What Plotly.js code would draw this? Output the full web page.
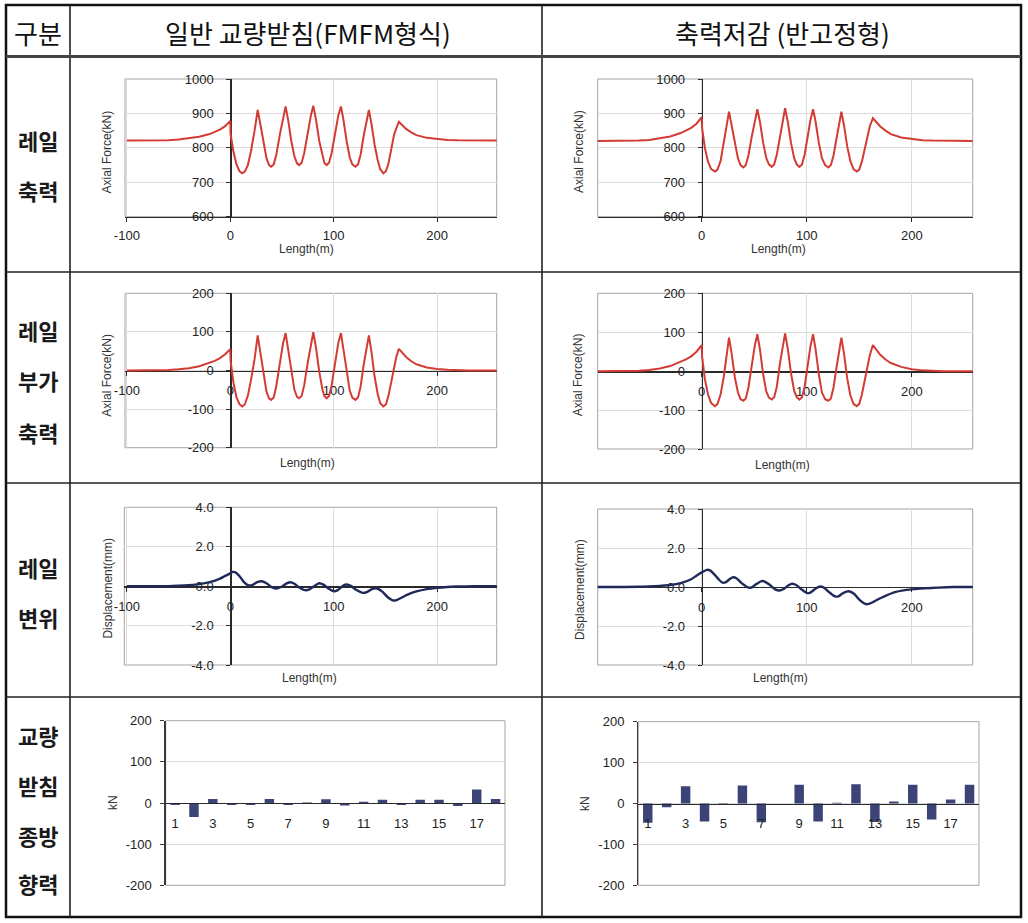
<!DOCTYPE html>
<html><head><meta charset="utf-8">
<script src="https://cdn.plot.ly/plotly-3.0.1.min.js"></script>
<style>html,body{margin:0;padding:0;background:#fff;}#chart{width:1028px;height:923px;}</style>
</head><body><div id="chart"></div>
<script>
// ---------------- DATA ----------------
const headerTexts = ['구분', '일반 교량받침(FMFM형식)', '축력저감 (반고정형)'];
const rowLabels = [['레일', '축력'], ['레일', '부가', '축력'], ['레일', '변위'], ['교량', '받침', '종방', '향력']];

// Row 1: rail axial force (kN)
const axialLenL = [-100,-80,-60,-50,-40,-30,-20,-15,-10,-5,0,0.3,3,6,9,11.6,14,17,20,23.5,26.5,29,32,35,37.5,39.5,42,44.5,48,51,53.5,56,59,62,64.5,66.5,69,71.5,75,78,80.3,83,86,89,91,93.2,95.5,98,101.5,104.5,107,109.5,112.5,115.5,118,121,123.5,126,129,132,134,136.5,139.5,142.5,145,148,150.5,153,156,158.5,163,166,170,175,180,190,200,210,220,240,260];
const axialL    = [821,821,822,824,827,832,840,846,853,863,878,840,790,752,732,726,731,750,790,850,910,870,815,770,750,745,752,780,840,890,920,880,820,775,755,750,757,785,845,895,922,880,820,775,756,750,757,785,845,895,920,880,820,772,752,745,752,780,835,885,910,870,810,765,738,726,732,755,800,840,876,866,855,845,837,829,825,823,822,821,821];
const axialLenR = [-100,-80,-60,-50,-40,-30,-20,-15,-10,-5,0,0.3,3,6,9,12.7,15,18,21,23.5,26,28.5,31.5,34.5,37,39.7,42,44.5,47.5,50.5,53,55.5,58.5,61.5,64,66.7,69,71.5,74.5,77,79.4,82,85,88,90.5,93,95.5,98,101,103.5,106,108.5,111.5,114.5,117.5,120.6,123,125.5,128.5,131,133,135.5,138.5,141.5,144.5,147.6,150,152.5,155,157.5,160,163,166,170,175,180,190,200,210,220,240,260];
const axialR    = [820,820,821,823,827,833,843,850,858,870,889,860,800,760,738,731,737,762,810,860,905,865,810,770,750,743,750,778,830,880,912,875,815,770,752,745,752,780,835,880,915,875,815,770,752,745,752,780,835,880,912,875,815,770,750,743,750,778,830,875,905,865,805,762,738,731,737,760,795,835,862,886,875,862,850,840,830,825,822,821,820,820];

// Row 2: rail additional axial force (kN)
const addLenL = [-100,-80,-60,-50,-40,-30,-20,-15,-10,-5,0,0.3,3,6,9,11.6,14,17,20,23.5,26.5,29,32,35,37.5,39.5,42,44.5,48,51,53.5,56,59,62,64.5,66.5,69,71.5,75,78,80.3,83,86,89,91,93.2,95.5,98,101.5,104.5,107,109.5,112.5,115.5,118,121,123.5,126,129,132,134,136.5,139.5,142.5,145,148,150.5,153,155.5,158,160.5,163,166,170,175,180,190,200,210,220,230,260];
const addL    = [0,0,1,3,6,11,19,25,32,42,55,25,-30,-70,-88,-93,-88,-65,-25,30,91,50,-10,-55,-72,-76,-70,-40,20,70,97,55,-5,-50,-68,-72,-66,-38,22,72,99,57,-3,-48,-66,-72,-66,-38,22,72,97,55,-5,-52,-70,-76,-70,-42,15,65,91,48,-15,-60,-85,-93,-88,-65,-30,10,35,56,46,35,24,16,8,4,2,1,0,0];
const addLenR = [-100,-80,-60,-50,-40,-30,-20,-15,-10,-5,0,0.3,3,6,9,12.7,15,18,21,23.5,26,28.5,31.5,34.5,37,39.7,42,44.5,47.5,50.5,53,55.5,58.5,61.5,64,66.7,69,71.5,74.5,77,79.4,82,85,88,90.5,93,95.5,98,101,103.5,106,108.5,111.5,114.5,117.5,120.6,123,125.5,128.5,131,133,135.5,138.5,141.5,144.5,147.6,150,152.5,155,157.5,160,163,166,170,175,180,190,200,210,220,230,260];
const addR    = [0,0,1,3,7,13,23,30,38,50,67,40,-20,-60,-82,-90,-84,-60,-15,35,86,45,-15,-55,-72,-76,-70,-42,15,65,95,55,-8,-52,-68,-73,-67,-40,20,65,97,57,-5,-50,-67,-73,-67,-40,18,63,95,55,-8,-55,-72,-76,-70,-42,12,55,86,45,-18,-62,-84,-90,-84,-60,-25,15,40,67,55,42,30,21,11,5,2,1,0,0];

// Row 3: rail displacement (mm)
const dispLenL = [-100,-60,-50,-40,-30,-20,-10,-5,0,2,5,9,13,17,21,26,30,35,40,45,50,55,58,62,67,72,76,81,86,90,95,100,104,108,112,117,122,128,132,137,142,147,152,157,160,165,172,180,190,200,210,220,235,260];
const dispL    = [0,0,0.02,0.05,0.1,0.2,0.38,0.52,0.65,0.72,0.7,0.5,0.22,0.05,0.05,0.2,0.25,0.15,-0.05,-0.12,-0.02,0.15,0.2,0.12,-0.08,-0.2,-0.18,0,0.15,0.08,-0.12,-0.26,-0.2,-0.02,0.08,0,-0.2,-0.34,-0.3,-0.15,-0.12,-0.28,-0.55,-0.72,-0.72,-0.6,-0.42,-0.27,-0.15,-0.08,-0.04,-0.02,0,0];
const dispLenR = [-100,-60,-50,-40,-30,-20,-10,-5,0,5,8,12,16,20,23,27,30,33,38,44,47,52,57,60,65,70,74,78,83,86,90,95,100,103,108,112,116,121,127,130,135,140,145,150,155,158,163,168,175,184,192,200,212,225,240,260];
const dispR    = [0,0.01,0.03,0.06,0.1,0.2,0.4,0.58,0.75,0.88,0.85,0.65,0.4,0.22,0.25,0.42,0.5,0.45,0.2,-0.02,-0.03,0.15,0.3,0.28,0.1,-0.12,-0.18,-0.1,0.1,0.17,0.1,-0.12,-0.3,-0.3,-0.1,0.02,-0.02,-0.25,-0.48,-0.48,-0.3,-0.22,-0.35,-0.65,-0.85,-0.88,-0.78,-0.63,-0.45,-0.26,-0.17,-0.12,-0.07,-0.03,0,0];

// Row 4: bearing longitudinal force (kN)
const bearingNo = ['1','2','3','4','5','6','7','8','9','10','11','12','13','14','15','16','17','18'];
const bearingTickLabels = ['1','3','5','7','9','11','13','15','17'];
const bearingL = [-5,-34,10,-5,-5,10,-5,1,9,-6,3,8,-5,8,8,-7,33,10];
const bearingR = [-47,-9,42,-44,-1,44,-46,0,46,-44,2,47,-45,5,46,-39,10,46];

// Tick labels
const lengthTicks = [-100, 0, 100, 200];
const lengthTickText = ['-100', '0', '100', '200'];
const axialTicks = [600, 700, 800, 900, 1000];
const axialTickText = ['600', '700', '800', '900', '1000'];
const addTicks = [-200, -100, 0, 100, 200];
const addTickText = ['-200', '-100', '0', '100', '200'];
const dispTicks = [-4, -2, 0, 2, 4];
const dispTickText = ['-4.0', '-2.0', '0.0', '2.0', '4.0'];
const kNTicks = [-200, -100, 0, 100, 200];
const kNTickText = ['-200', '-100', '0', '100', '200'];

const axisTitles = {axial: 'Axial Force(kN)', disp: 'Displacement(mm)', len: 'Length(m)', kn: 'kN'};

// ---------------- LAYOUT ----------------
const W = 1028, H = 923;
const fx = p => p / W;
const fy = p => 1 - p / H;

const RED = '#d33c34', NAVY = '#1f2a58', BAR = '#3c4377';
const tickFont = {family: 'Liberation Sans, Arial, sans-serif', size: 13, color: '#222'};
const titleFont = {family: 'Liberation Sans, Arial, sans-serif', size: 12, color: '#333'};
const KFONT = 'Noto Sans CJK KR, sans-serif';

// plot boxes in pixels
const plots = [
  {x0:125,   x1:496.7, y0:79,    y1:216.7, xr:[-101.8,257.6], yr:[600,1000], zx:230.3, xaxPx:216.7, xs:axialLenL, ys:axialL, col:RED, yt:axialTicks, ytt:axialTickText, ytitle:axisTitles.axial, ytPos:[106.7,151.7], ltPos:[306.7,249.3], shape:'linear', lw:2},
  {x0:597.7, x1:972.7, y0:79,    y1:216.7, xr:[-99,258],      yr:[600,1000], zx:701.7, xaxPx:216.7, xs:axialLenR, ys:axialR, col:RED, yt:axialTicks, ytt:axialTickText, ytitle:axisTitles.axial, ytPos:[578.3,151.7], ltPos:[778.3,249.3], shape:'linear', lw:2},
  {x0:125,   x1:496.7, y0:293.3, y1:447.7, xr:[-101.8,257.6], yr:[-200,200], zx:230.3, xaxPx:370.5, xs:addLenL, ys:addL, col:RED, yt:addTicks, ytt:addTickText, ytitle:axisTitles.axial, ytPos:[106.7,375], ltPos:[307.3,463.3], shape:'linear', lw:2},
  {x0:597.7, x1:972.7, y0:293.3, y1:449,   xr:[-99,258],      yr:[-200,200], zx:701.7, xaxPx:371.2, xs:addLenR, ys:addR, col:RED, yt:addTicks, ytt:addTickText, ytitle:axisTitles.axial, ytPos:[578.3,375], ltPos:[782.3,465], shape:'linear', lw:2},
  {x0:124.3, x1:496.7, y0:507.3, y1:665,   xr:[-102.5,257.6], yr:[-4,4],     zx:230.3, xaxPx:586.2, xs:dispLenL, ys:dispL, col:NAVY, yt:dispTicks, ytt:dispTickText, ytitle:axisTitles.disp, ytPos:[108.3,588.3], ltPos:[309.3,677.7], shape:'spline', lw:2.4},
  {x0:597.7, x1:972.7, y0:509,   y1:665,   xr:[-99,258],      yr:[-4,4],     zx:701.7, xaxPx:587,   xs:dispLenR, ys:dispR, col:NAVY, yt:dispTicks, ytt:dispTickText, ytitle:axisTitles.disp, ytPos:[580,590], ltPos:[780,677.7], shape:'spline', lw:2.4}
];
const barPlots = [
  {x0:165.7, x1:505, y0:720.7, y1:885.3, xaxPx:803,   vals:bearingL, ytPos:[113,803]},
  {x0:638.3, x1:979, y0:721.7, y1:885.3, xaxPx:803.5, vals:bearingR, ytPos:[585,804]}
];

const data = [];
const layout = {
  width: W, height: H, margin: {l:0, r:0, t:0, b:0},
  paper_bgcolor: '#ffffff', plot_bgcolor: 'rgba(0,0,0,0)',
  showlegend: false, bargap: 0.5,
  shapes: [], annotations: []
};

function frame(p) {
  layout.shapes.push({type:'rect', xref:'paper', yref:'paper', x0:fx(p.x0), x1:fx(p.x1), y0:fy(p.y1), y1:fy(p.y0),
    line:{color:'#a3a3a3', width:1}, layer:'below'});
}

plots.forEach((p, i) => {
  const n = i + 1;
  const xa = 'xaxis' + n, ya = 'yaxis' + n;
  data.push({type:'scatter', mode:'lines', x:p.xs, y:p.ys, xaxis:'x'+n, yaxis:'y'+n,
    line:{color:p.col, width:p.lw, shape:p.shape, smoothing:0.8}, hoverinfo:'skip'});
  layout[xa] = {domain:[fx(p.x0), fx(p.x1)], range:p.xr, anchor:'free', position:fy(p.xaxPx),
    tickmode:'array', tickvals:lengthTicks, ticktext:lengthTickText, tickfont:tickFont,
    showline:true, linecolor:'#2a2a2a', linewidth:1.3, ticks:'outside', ticklen:4, tickcolor:'#2a2a2a',
    ticklabelstandoff: i < 2 ? 2 : 4,
    showgrid:true, gridcolor:'#dcdcdc', gridwidth:1, zeroline:false, layer:'below traces', fixedrange:true};
  layout[ya] = {domain:[fy(p.y1), fy(p.y0)], range:p.yr, anchor:'free', position:fx(p.zx),
    tickmode:'array', tickvals:p.yt, ticktext:p.ytt, tickfont:tickFont,
    showline:true, linecolor:'#2a2a2a', linewidth:1.3, ticks:'outside', ticklen:4, tickcolor:'#2a2a2a',
    ticklabelstandoff:10,
    showgrid:true, gridcolor:'#dcdcdc', gridwidth:1, zeroline:false, layer:'below traces', fixedrange:true};
  frame(p);
  layout.annotations.push({xref:'paper', yref:'paper', x:fx(p.ytPos[0]), y:fy(p.ytPos[1]), text:p.ytitle,
    textangle:-90, showarrow:false, font:titleFont, xanchor:'center', yanchor:'middle'});
  layout.annotations.push({xref:'paper', yref:'paper', x:fx(p.ltPos[0]), y:fy(p.ltPos[1]), text:axisTitles.len,
    showarrow:false, font:titleFont, xanchor:'center', yanchor:'middle'});
});

barPlots.forEach((p, j) => {
  const n = 7 + j;
  data.push({type:'bar', x:bearingNo, y:p.vals, xaxis:'x'+n, yaxis:'y'+n,
    marker:{color:BAR, line:{width:0}}, hoverinfo:'skip'});
  layout['xaxis'+n] = {domain:[fx(p.x0), fx(p.x1)], type:'category', range:[-0.5, 17.5], anchor:'free', position:fy(p.xaxPx),
    tickmode:'array', tickvals:bearingTickLabels, ticktext:bearingTickLabels, tickfont:tickFont,
    showline:true, linecolor:'#2a2a2a', linewidth:1.3, ticks:'', ticklabelstandoff:8,
    showgrid:false, zeroline:false, fixedrange:true};
  layout['yaxis'+n] = {domain:[fy(p.y1), fy(p.y0)], range:[-200,200], anchor:'x'+n,
    tickmode:'array', tickvals:kNTicks, ticktext:kNTickText, tickfont:tickFont,
    showline:true, linecolor:'#3a3a3a', linewidth:1.3, ticks:'outside', ticklen:4, tickcolor:'#3a3a3a',
    ticklabelstandoff:6,
    showgrid:true, gridcolor:'#dcdcdc', gridwidth:1, zeroline:false, fixedrange:true};
  frame(p);
  layout.annotations.push({xref:'paper', yref:'paper', x:fx(p.ytPos[0]), y:fy(p.ytPos[1]), text:axisTitles.kn,
    textangle:-90, showarrow:false, font:titleFont, xanchor:'center', yanchor:'middle'});
});

// ---------------- TABLE ----------------
const TL = 6, TR = 1021, TT = 5, TB = 917;
const colLines = [70, 542];
const rowLines = [272, 483, 697];
const headerBottom = 56.5;
layout.shapes.push({type:'rect', xref:'paper', yref:'paper', x0:fx(TL), x1:fx(TR), y0:fy(TB), y1:fy(TT), line:{color:'#111', width:2.5}});
colLines.forEach(c => layout.shapes.push({type:'line', xref:'paper', yref:'paper', x0:fx(c), x1:fx(c), y0:fy(TB), y1:fy(TT), line:{color:'#222', width:1.6}}));
rowLines.forEach(r => layout.shapes.push({type:'line', xref:'paper', yref:'paper', x0:fx(TL), x1:fx(TR), y0:fy(r), y1:fy(r), line:{color:'#222', width:1.6}}));
layout.shapes.push({type:'line', xref:'paper', yref:'paper', x0:fx(TL), x1:fx(TR), y0:fy(headerBottom), y1:fy(headerBottom), line:{color:'#444', width:3}});

const headerX = [38, 308, 782];
headerTexts.forEach((t, i) => layout.annotations.push({xref:'paper', yref:'paper', x:fx(headerX[i]), y:fy(32), text:t,
  showarrow:false, font:{family:KFONT, size:26, color:'#111'}, xanchor:'center', yanchor:'middle'}));

const rowLabelY = [[140, 190], [330, 380, 432], [567, 617], [735, 785, 835, 883]];
rowLabels.forEach((lines, r) => lines.forEach((t, k) => layout.annotations.push({xref:'paper', yref:'paper',
  x:fx(38), y:fy(rowLabelY[r][k]), text:'<b>' + t + '</b>', showarrow:false, font:{family:KFONT, size:22, color:'#1a1a1a'},
  xanchor:'center', yanchor:'middle'})));

Plotly.newPlot('chart', data, layout, {displayModeBar:false, staticPlot:true});
</script>
</body></html>
